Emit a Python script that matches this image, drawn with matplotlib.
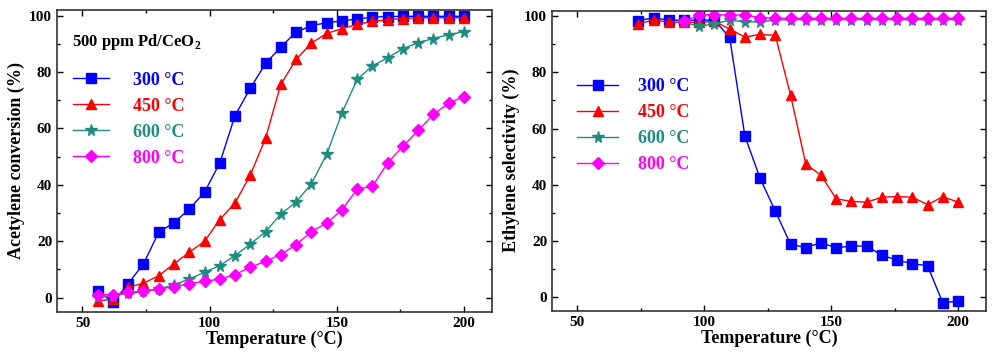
import matplotlib
matplotlib.use("Agg")
import matplotlib.pyplot as plt
import matplotlib.ticker as mticker

plt.rcParams['font.family'] = ['Liberation Serif', 'DejaVu Serif']
plt.rcParams['font.weight'] = 'bold'
plt.rcParams['mathtext.fontset'] = 'custom'
plt.rcParams['mathtext.rm'] = 'Liberation Serif'
plt.rcParams['mathtext.bf'] = 'Liberation Serif:bold'

# --------- data ---------
temp_conv = list(range(56, 201, 6))          # 56 ... 200
conv_300 = [2.5, -1.7, 5, 12, 23.2, 26.6, 31.4, 37.4, 47.8, 64.6, 74.3, 83.1, 88.9,
            94.2, 96.5, 97.5, 98.2, 98.8, 99.5, 99.7, 99.8, 99.8, 99.8, 99.8, 99.8]
conv_450 = [-1.1, -0.6, 3.7, 5.1, 7.8, 12, 16.1, 20, 27.7, 33.6, 43.5, 56.6, 75.7,
            84.5, 90.3, 93.7, 95.4, 96.9, 98, 98.6, 99, 99.3, 99.3, 99.3, 99.3]
conv_600 = [0.3, 0.6, 1.5, 2.2, 3, 4.6, 6.6, 9, 11.4, 14.9, 19, 23.4, 29.7,
            33.9, 40.4, 50.8, 65.5, 77.4, 82.2, 85.1, 88.3, 90.5, 91.9, 93.3, 94.3]
conv_800 = [1.1, 1.1, 1.9, 2.3, 3.1, 3.9, 4.9, 5.8, 6.6, 8.2, 10.8, 12.9, 15.3,
            18.8, 23.4, 26.5, 31.1, 38.5, 39.5, 47.8, 53.7, 59.3, 65, 69, 71.3]

temp_sel_a = list(range(74, 201, 6))         # 74 ... 200 (300, 450 C)
sel_300 = [98.5, 99.5, 98.7, 98.6, 98.7, 98.7, 92.5, 57.3, 42.2, 30.5, 18.7, 17.5,
           19.3, 17.4, 18.1, 18, 14.8, 13, 11.8, 11, -2.3, -1.5]
sel_450 = [97.4, 98.7, 98, 97.9, 97.9, 98.2, 95.5, 92.6, 93.6, 93.2, 71.9, 47.3,
           43.3, 34.9, 34, 33.7, 35.5, 35.7, 35.5, 32.8, 35.7, 33.7]
temp_sel_b = list(range(92, 201, 6))         # 92 ... 200 (600, 800 C)
sel_600 = [98, 96.4, 97.4, 98.6, 98.1, 98, 98.7, 98.8, 98.8, 98.8, 98.8, 98.8,
           98.8, 98.8, 98.8, 98.8, 98.8, 98.8, 98.8]
sel_800 = [98.2, 100.6, 100.6, 100.5, 100.5, 99.6, 99.3, 99.3, 99.3, 99.3, 99.3, 99.3,
           99.3, 99.3, 99.3, 99.3, 99.3, 99.3, 99.3]

labels = ['300 °C', '450 °C', '600 °C', '800 °C']
colors = ['#0000FF', '#FF0000', '#1E8C7E', '#FF00FF']
markers = ['s', '^', '*', 'D']
msizes = [6.5, 7.5, 8.5, 6.5]

fig = plt.figure(figsize=(10, 3.6), dpi=100)
ax1 = fig.add_axes([0.057, 0.134, 0.435, 0.838])
ax2 = fig.add_axes([0.552, 0.137, 0.434, 0.833])


def style_axes(ax, ylabel):
    ax.set_xlim(40, 211)
    ax.set_ylim(-5, 102)
    ax.xaxis.set_major_locator(mticker.MultipleLocator(50))
    ax.xaxis.set_minor_locator(mticker.MultipleLocator(25))
    ax.yaxis.set_major_locator(mticker.MultipleLocator(20))
    ax.yaxis.set_minor_locator(mticker.MultipleLocator(10))
    ax.tick_params(which='both', direction='in', top=True, right=True,
                   labelsize=11, width=1)
    ax.tick_params(which='major', length=4)
    ax.tick_params(which='minor', length=2.5)
    for t in ax.get_xticklabels() + ax.get_yticklabels():
        t.set_fontweight('bold')
    for s in ax.spines.values():
        s.set_linewidth(1.2)
        s.set_color('#333333')
    ax.set_xlabel('Temperature (°C)', fontsize=13, fontweight='bold', labelpad=1)
    ax.set_ylabel(ylabel, fontsize=13, fontweight='bold', labelpad=3)


# --------- conversion plot ---------
for y, lab, c, m, ms in zip([conv_300, conv_450, conv_600, conv_800],
                             labels, colors, markers, msizes):
    ax1.plot(temp_conv, y, marker=m, color=c, markersize=ms, linewidth=1, label=lab)
style_axes(ax1, 'Acetylene conversion (%)')
ax1.text(0.035, 0.893, '500 ppm Pd/CeO$_{\\mathbf{2}}$', transform=ax1.transAxes,
         fontsize=12, fontweight='bold', va='center')
leg1 = ax1.legend(loc='upper left', bbox_to_anchor=(0.0, 0.85), frameon=False,
                  fontsize=13, handlelength=2.0, handletextpad=1.3,
                  labelspacing=0.5, labelcolor='linecolor')
for t in leg1.get_texts():
    t.set_fontweight('bold')

# --------- selectivity plot ---------
xs = [temp_sel_a, temp_sel_a, temp_sel_b, temp_sel_b]
for x, y, lab, c, m, ms in zip(xs, [sel_300, sel_450, sel_600, sel_800],
                                labels, colors, markers, msizes):
    ax2.plot(x, y, marker=m, color=c, markersize=ms, linewidth=1, label=lab)
style_axes(ax2, 'Ethylene selectivity (%)')
leg2 = ax2.legend(loc='upper left', bbox_to_anchor=(0.02, 0.83), frameon=False,
                  fontsize=13, handlelength=2.3, handletextpad=1.1,
                  labelspacing=0.5, labelcolor='linecolor')
for t in leg2.get_texts():
    t.set_fontweight('bold')

fig.savefig('out.png', dpi=100)
